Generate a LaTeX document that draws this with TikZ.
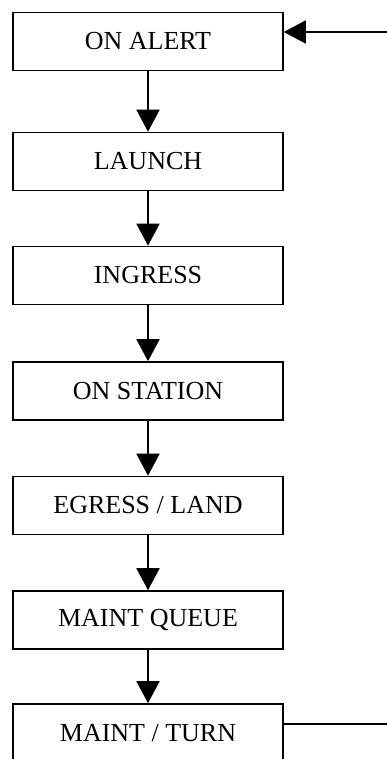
\documentclass[tikz,border=0pt]{standalone}
\usepackage{fontspec}
\setmainfont{Liberation Serif}
\usetikzlibrary{arrows.meta}
\begin{document}
\begin{tikzpicture}[x=1pt,y=1pt,
  stepbox/.style={draw=black,line width=1.6pt,minimum width=270pt,minimum height=58pt,inner sep=0pt,
    font=\fontsize{26}{30}\selectfont,anchor=center},
  flow/.style={line width=1.8pt,-{Triangle[length=22pt,width=23pt]}},
  plain/.style={line width=1.8pt}]
\useasboundingbox (0,0) rectangle (387,-759);
\clip (0,0) rectangle (387,-759);
\node[stepbox] (alert) at (148,-41.5) {ON ALERT};
\node[stepbox] (launch) at (148,-161.5) {LAUNCH};
\node[stepbox] (ingress) at (148,-275.5) {INGRESS};
\node[stepbox] (station) at (148,-391) {ON STATION};
\node[stepbox] (egress) at (148,-505.5) {EGRESS / LAND};
\node[stepbox] (queue) at (148,-620) {MAINT QUEUE};
\node[stepbox] (turn) at (148,-733) {MAINT / TURN};
\draw[flow] (alert) -- (launch);
\draw[flow] (launch) -- (ingress);
\draw[flow] (ingress) -- (station);
\draw[flow] (station) -- (egress);
\draw[flow] (egress) -- (queue);
\draw[flow] (queue) -- (turn);
\coordinate (in1) at (390,-32);
\coordinate (out1) at (390,-724);
\draw[flow] (in1) -- (alert.east |- in1);
\draw[plain] (turn.east |- out1) -- (out1);
\end{tikzpicture}
\end{document}
